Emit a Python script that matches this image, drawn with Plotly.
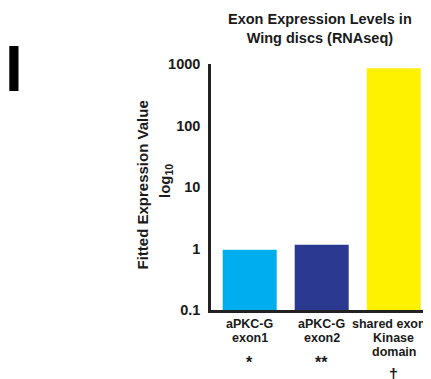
import plotly.graph_objects as go

categories = ["aPKC-G exon1", "aPKC-G exon2", "shared exon Kinase domain"]
label_lines = [["aPKC-G", "exon1"], ["aPKC-G", "exon2"], ["shared exon", "Kinase", "domain"]]
marks = ["*", "**", "\u2020"]
values = [0.95, 1.15, 850]
colors = ["#00AEEF", "#2B3990", "#FFF200"]
tick_vals = [0.1, 1, 10, 100, 1000]
tick_text = ["0.1", "1", "10", "100", "1000"]

FONT = "Liberation Sans, Arial, sans-serif"
OFF = 8  # page body margin in the browser
AX_L, AX_R, AX_T, AX_B = 211, 427, 64, 310
W, H = 431 - OFF, 379 - OFF
L = AX_L - OFF
T = AX_T - OFF
R = W - (AX_R - OFF)
B = H - (AX_B - OFF)
PW, PH = AX_R - AX_L, AX_B - AX_T

def px_x(px):
    return (px - AX_L) / PW

def px_y(py):
    return (AX_B - py) / PH

fig = go.Figure()
fig.add_trace(go.Bar(
    x=list(range(len(categories))), y=values,
    marker=dict(color=colors, line=dict(width=0)),
    width=0.75, hovertext=categories,
))

fig.update_layout(
    width=W, height=H,
    margin=dict(l=L, r=R, t=T, b=B, pad=0),
    paper_bgcolor="white", plot_bgcolor="white",
    showlegend=False,
    font=dict(family=FONT, color="#1a1a1a"),
    bargap=0.25,
)
fig.update_xaxes(
    range=[-0.5375, 2.4625], showticklabels=False, ticks="",
    showgrid=False, zeroline=False,
    showline=True, linecolor="#222222", linewidth=2.5,
)
fig.update_yaxes(
    type="log", range=[-1, 3],
    tickvals=tick_vals, ticktext=tick_text,
    tickfont=dict(size=14.5, family=FONT, color="#1a1a1a", weight="bold"),
    ticks="", ticklabelstandoff=5,
    showgrid=False, zeroline=False,
    showline=True, linecolor="#222222", linewidth=2.5,
)

ann = []
ann.append(dict(text="<b>Exon Expression Levels in<br>Wing discs (RNAseq)</b>",
                xref="paper", yref="paper", x=px_x(320), y=px_y(29),
                xanchor="center", yanchor="middle", showarrow=False,
                font=dict(size=14.5, family=FONT, color="#1a1a1a")))
ann.append(dict(text="<b>Fitted Expression Value</b>", textangle=-90,
                xref="paper", yref="paper", x=px_x(142), y=px_y(185.5),
                xanchor="center", yanchor="middle", showarrow=False,
                font=dict(size=15, family=FONT, color="#1a1a1a")))
ann.append(dict(text="<b>log<sub>10</sub></b>", textangle=-90,
                xref="paper", yref="paper", x=px_x(165), y=px_y(181),
                xanchor="center", yanchor="middle", showarrow=False,
                font=dict(size=15, family=FONT, color="#1a1a1a")))
line_y = [324, 338, 352]
for i, lines in enumerate(label_lines):
    for j, t in enumerate(lines):
        shift = -5 if (i == 2 and j == 0) else 0
        ann.append(dict(text="<b>%s</b>" % t, xref="x", yref="paper",
                        x=i, y=px_y(line_y[j]), xshift=shift,
                        xanchor="center", yanchor="middle",
                        showarrow=False, font=dict(size=12.5, family=FONT, color="#1a1a1a")))
mark_y = [362, 362, 374]
for i, m in enumerate(marks):
    ann.append(dict(text="<b>%s</b>" % m, xref="x", yref="paper",
                    x=i, y=px_y(mark_y[i]), xanchor="center", yanchor="middle",
                    showarrow=False, font=dict(size=16, family=FONT, color="#1a1a1a")))
ann.append(dict(text="<b>I</b>", xref="paper", yref="paper",
                x=px_x(13.7), y=px_y(69), xanchor="center", yanchor="middle",
                showarrow=False, font=dict(size=64, family=FONT, color="#000000")))
fig.update_layout(annotations=ann)

fig.write_html("out.html")
